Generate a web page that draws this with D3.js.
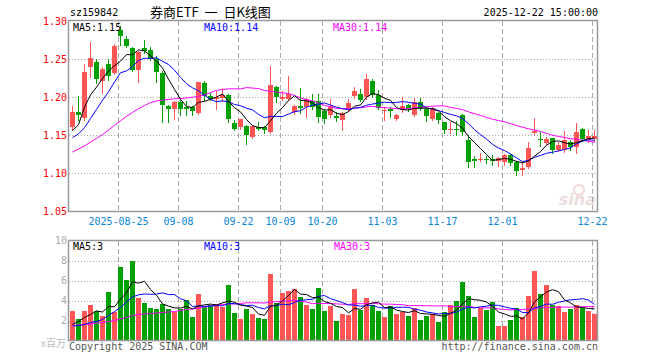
<!DOCTYPE html>
<html><head><meta charset="utf-8">
<script src="https://cdn.jsdelivr.net/npm/d3@7/dist/d3.min.js"></script>
<style>body{margin:0;background:#fff}svg{display:block}</style>
</head><body><svg id="c" width="660" height="360"></svg>
<script>
// ---------------- data ----------------
const dates = [
"2025-08-13","2025-08-14","2025-08-15","2025-08-18","2025-08-19","2025-08-20","2025-08-21","2025-08-22","2025-08-25","2025-08-26",
"2025-08-27","2025-08-28","2025-08-29","2025-09-01","2025-09-02","2025-09-03","2025-09-04","2025-09-05","2025-09-08","2025-09-09",
"2025-09-10","2025-09-11","2025-09-12","2025-09-15","2025-09-16","2025-09-17","2025-09-18","2025-09-19","2025-09-22","2025-09-23",
"2025-09-24","2025-09-25","2025-09-26","2025-09-29","2025-09-30","2025-10-09","2025-10-10","2025-10-13","2025-10-14","2025-10-15",
"2025-10-16","2025-10-17","2025-10-20","2025-10-21","2025-10-22","2025-10-23","2025-10-24","2025-10-27","2025-10-28","2025-10-29",
"2025-10-30","2025-10-31","2025-11-03","2025-11-04","2025-11-05","2025-11-06","2025-11-07","2025-11-10","2025-11-11","2025-11-12",
"2025-11-13","2025-11-14","2025-11-17","2025-11-18","2025-11-19","2025-11-20","2025-11-21","2025-11-24","2025-11-25","2025-11-26",
"2025-11-27","2025-11-28","2025-12-01","2025-12-02","2025-12-03","2025-12-04","2025-12-05","2025-12-08","2025-12-09","2025-12-10",
"2025-12-11","2025-12-12","2025-12-15","2025-12-16","2025-12-17","2025-12-18","2025-12-19","2025-12-22"];

const open = [1.161,1.181,1.173,1.2395,1.2456,1.221,1.2439,1.232,1.2886,1.2763,
1.264,1.236,1.264,1.2623,1.25,1.2316,1.1886,1.1851,1.1939,1.1877,
1.1868,1.1798,1.218,1.2015,1.198,1.199,1.2026,1.1667,1.1605,1.1623,
1.1474,1.1614,1.1605,1.1548,1.214,1.1982,1.1974,1.1807,1.1886,1.1868,
1.1956,1.1947,1.1825,1.1763,1.175,1.1702,1.1833,1.2018,1.2044,1.20,
1.221,1.2031,1.1815,1.1842,1.1712,1.183,1.1895,1.1768,1.1943,1.184,
1.171,1.179,1.1675,1.1566,1.158,1.1768,1.1439,1.1184,1.1175,1.1193,
1.1184,1.1158,1.1149,1.1241,1.1154,1.1044,1.1079,1.1526,1.1456,1.1395,
1.1461,1.1307,1.1307,1.1417,1.1351,1.1579,1.144,1.1445];

const high = [1.189,1.201,1.243,1.272,1.25,1.240,1.25,1.270,1.294,1.280,
1.2658,1.260,1.2754,1.2658,1.2535,1.2338,1.19,1.195,1.1965,1.1952,
1.1886,1.2206,1.221,1.206,1.208,1.212,1.204,1.170,1.172,1.163,
1.163,1.168,1.1623,1.2404,1.215,1.2075,1.2272,1.19,1.2118,1.199,
1.2044,1.2044,1.184,1.1974,1.181,1.180,1.198,1.214,1.2105,1.2305,
1.224,1.2088,1.1868,1.1868,1.178,1.200,1.191,1.199,1.199,1.186,
1.187,1.181,1.168,1.1675,1.169,1.178,1.150,1.1228,1.1272,1.1228,
1.1237,1.121,1.126,1.126,1.116,1.1158,1.1417,1.1724,1.1548,1.148,
1.147,1.1417,1.1561,1.144,1.1667,1.159,1.157,1.157];

const low = [1.157,1.170,1.170,1.227,1.218,1.206,1.2228,1.230,1.268,1.2658,
1.235,1.2202,1.258,1.2482,1.2206,1.168,1.168,1.172,1.1768,1.1768,
1.1768,1.178,1.196,1.196,1.185,1.195,1.168,1.157,1.158,1.1386,
1.146,1.157,1.1535,1.1535,1.1943,1.196,1.1965,1.178,1.1789,1.1746,
1.185,1.168,1.1667,1.174,1.169,1.157,1.182,1.199,1.195,1.198,
1.200,1.184,1.1702,1.1737,1.170,1.180,1.182,1.175,1.183,1.169,
1.17,1.166,1.1535,1.1526,1.1504,1.150,1.1079,1.1079,1.1158,1.114,
1.1114,1.1096,1.111,1.1105,1.0978,1.0978,1.1066,1.1518,1.136,1.138,
1.1263,1.129,1.128,1.131,1.1272,1.143,1.141,1.143];

const close = [1.180,1.177,1.233,1.252,1.2237,1.2368,1.2272,1.2675,1.2807,1.2675,
1.236,1.2588,1.2605,1.25,1.2325,1.190,1.1851,1.1939,1.1851,1.1851,
1.1825,1.2193,1.201,1.198,1.2005,1.2025,1.171,1.1588,1.171,1.1504,
1.1623,1.1588,1.157,1.2162,1.20,1.20,1.2044,1.1886,1.1855,1.1974,
1.1868,1.1737,1.1719,1.1886,1.1728,1.179,1.193,1.2075,1.1965,1.2245,
1.2025,1.1862,1.1835,1.1825,1.1768,1.189,1.1845,1.194,1.185,1.1755,
1.1855,1.1695,1.157,1.158,1.157,1.1548,1.1154,1.1167,1.1193,1.1175,
1.1167,1.1202,1.1246,1.114,1.1035,1.1066,1.1329,1.1561,1.1439,1.1456,
1.1307,1.1373,1.1439,1.1351,1.1548,1.1447,1.1495,1.149];

// volume, millions of shares
const volume = [3.0,2.2,3.0,3.6,2.97,2.5,4.9,2.9,7.4,6.1,
8.0,4.3,3.8,3.3,3.2,3.7,3.2,2.9,3.2,4.1,
2.4,4.7,3.4,3.6,3.7,3.4,5.6,2.8,2.2,3.2,
2.7,2.3,2.2,6.7,3.8,4.8,5.0,5.2,4.4,3.6,
3.2,5.3,3.0,3.5,2.0,2.7,2.6,5.2,3.1,4.3,
3.6,3.0,2.4,3.5,2.7,2.9,2.5,3.3,2.1,2.5,
2.7,1.9,2.9,3.6,4.0,5.9,4.5,2.4,3.3,3.1,
3.9,1.5,1.5,2.1,3.3,2.4,4.5,7.0,4.7,5.6,
3.6,3.5,2.9,3.2,3.6,3.3,3.0,2.7];

const ma5Lead  = [1.156,1.164,1.187,1.203];
const ma10Lead = [1.147,1.152,1.160,1.172,1.184,1.196,1.207,1.220,1.232];
const ma30Lead = [1.128,1.132,1.136,1.141,1.146,1.151,1.157,1.163,1.169,1.175,1.180,1.185,1.189,1.193,1.195,
                  1.196,1.197,1.198,1.198,1.199,1.200,1.201,1.203,1.206,1.209,1.210,1.211,1.211,1.211];
const volMa5Lead  = [1.6,1.9,2.3,2.6];
const volMa10Lead = [1.45,1.5,1.6,1.8,1.9,2.1,2.5,2.9,3.3];
const volMa30Lead = [1.5,1.55,1.6,1.65,1.75,1.8,1.9,2.0,2.15,2.3,2.5,2.6,2.65,2.7,2.75,
                     2.8,2.85,2.9,3.0,3.1,3.15,3.25,3.35,3.45,3.55,3.6,3.65,3.65,3.7];

const tickDates  = ["2025-08-25","2025-09-08","2025-09-22","2025-10-09","2025-10-20","2025-11-03","2025-11-17","2025-12-01","2025-12-22"];
const tickLabels = ["2025-08-25","09-08","09-22","10-09","10-20","11-03","11-17","12-01","12-22"];
const priceTicks = [1.05,1.10,1.15,1.20,1.25,1.30];
const volTicks   = [2,4,6,8,10];

const code = "sz159842";
const title = "券商ETF 一 日K线图";
const stamp = "2025-12-22 15:00:00";

// ---------------- helpers ----------------
function movingAvg(vals, n, lead){
  return vals.map((v,i)=> i < n-1 ? lead[i] : d3.mean(vals.slice(i-n+1, i+1)));
}
const idx = d3.range(dates.length);
const ma5 = movingAvg(close,5,ma5Lead), ma10 = movingAvg(close,10,ma10Lead), ma30 = movingAvg(close,30,ma30Lead);
const vma5 = movingAvg(volume,5,volMa5Lead), vma10 = movingAvg(volume,10,volMa10Lead), vma30 = movingAvg(volume,30,volMa30Lead);

const UP = "#ff5555", DOWN = "#00a000";
const MONO = "'DejaVu Sans Mono', monospace";
const L = 68.5, R = 597.5;

const svg = d3.select("#c");
const x  = d3.scaleBand().domain(dates).range([69.5, 597.5]);
const y  = d3.scaleLinear().domain([1.05,1.30]).range([211.5, 21]);
const yv = d3.scaleLinear().domain([0,10]).range([340.5, 240.5]);
const cx = d => x(d) + 3;
const snap = v => Math.round(v) + 0.5;

// ---------------- header ----------------
svg.append("text").attr("x",70).attr("y",16).attr("font-family",MONO).attr("font-size",10).attr("fill","#000").text(code);
svg.append("text").attr("x",150).attr("y",17).attr("font-family","'Noto Sans CJK SC', sans-serif").attr("font-size",13)
  .attr("word-spacing",3).attr("fill","#000").text(title);
svg.append("text").attr("x",598).attr("y",16).attr("text-anchor","end").attr("font-family",MONO).attr("font-size",10).attr("fill","#000").text(stamp);

// ---------------- panels ----------------
function panel(yTop, yBot, ys, hTicks){
  const g = svg.append("g");
  g.selectAll("line.h").data(hTicks).join("line")
    .attr("x1",L).attr("x2",R).attr("y1",d=>snap(ys(d))-0.5).attr("y2",d=>snap(ys(d))-0.5)
    .attr("stroke","#aaa").attr("stroke-dasharray","1,2").attr("shape-rendering","crispEdges");
  g.selectAll("line.v").data(tickDates).join("line")
    .attr("x1",d=>x(d)+1).attr("x2",d=>x(d)+1).attr("y1",yTop).attr("y2",yBot)
    .attr("stroke","#aaa").attr("stroke-dasharray","5,3").attr("shape-rendering","crispEdges");
  return g;
}
panel(21, 211, y, [1.10,1.15,1.20,1.25]);
panel(241, 340, yv, [2,4,6,8]);

const defs = svg.append("defs");
defs.append("clipPath").attr("id","cm").append("rect").attr("x",L).attr("y",20.5).attr("width",R-L).attr("height",191);
defs.append("clipPath").attr("id","cv").append("rect").attr("x",L).attr("y",240.5).attr("width",R-L).attr("height",100);

// watermark
const wm = svg.append("g").attr("opacity",0.35);
wm.append("circle").attr("cx",579).attr("cy",190).attr("r",5).attr("fill","none").attr("stroke","#d88").attr("stroke-width",2);
wm.append("text").attr("x",596).attr("y",205).attr("text-anchor","end").attr("font-family","'DejaVu Sans', sans-serif")
  .attr("font-style","italic").attr("font-weight","bold").attr("font-size",16).attr("fill","#c9a0a0").text("sina");

// candles
const cg = svg.append("g").attr("clip-path","url(#cm)");
cg.selectAll("line.wick").data(idx).join("line")
  .attr("x1",i=>cx(dates[i])).attr("x2",i=>cx(dates[i]))
  .attr("y1",i=>Math.round(y(high[i]))).attr("y2",i=>Math.round(y(low[i]))+1)
  .attr("stroke",i=>close[i]>=open[i]?UP:DOWN).attr("stroke-width",1).attr("shape-rendering","crispEdges");
cg.selectAll("rect.body").data(idx).join("rect")
  .attr("x",i=>x(dates[i])+0.5).attr("width",5)
  .attr("y",i=>Math.round(y(Math.max(open[i],close[i]))))
  .attr("height",i=>Math.max(1, Math.round(y(Math.min(open[i],close[i]))) - Math.round(y(Math.max(open[i],close[i])))))
  .attr("fill",i=>close[i]>=open[i]?UP:DOWN).attr("shape-rendering","crispEdges");

const lineP = d3.line().x((d,i)=>cx(dates[i])).y(d=>y(d));
[[ma30,"#ff00ff"],[ma10,"#0000ff"],[ma5,"#000"]].forEach(([s,c])=>{
  cg.append("path").datum(s).attr("d",lineP).attr("fill","none").attr("stroke",c).attr("stroke-width",1);
});

// volume bars
const vg = svg.append("g").attr("clip-path","url(#cv)");
vg.selectAll("rect.vol").data(idx).join("rect")
  .attr("x",i=>x(dates[i])+0.5).attr("width",5)
  .attr("y",i=>Math.round(yv(volume[i])))
  .attr("height",i=>340.5-Math.round(yv(volume[i])))
  .attr("fill",i=>close[i]>=open[i]?UP:DOWN).attr("shape-rendering","crispEdges");
const lineV = d3.line().x((d,i)=>cx(dates[i])).y(d=>yv(d));
[[vma30,"#ff00ff"],[vma10,"#0000ff"],[vma5,"#000"]].forEach(([s,c])=>{
  vg.append("path").datum(s).attr("d",lineV).attr("fill","none").attr("stroke",c).attr("stroke-width",1);
});

// borders
[[20.5,211.5],[240.5,340.5]].forEach(([t,b])=>{
  svg.append("rect").attr("x",L).attr("y",t).attr("width",R-L).attr("height",b-t)
    .attr("fill","none").attr("stroke","#999").attr("stroke-width",1.5);
});

// axes
const axY = svg.append("g").attr("transform","translate(67,0)")
  .call(d3.axisLeft(y).tickValues(priceTicks).tickSize(0).tickPadding(0).tickFormat(d3.format(".2f")));
axY.select(".domain").remove();
axY.selectAll("text").attr("font-family",MONO).attr("font-size",10).attr("fill","#ff0000");

const axV = svg.append("g").attr("transform","translate(67,0)")
  .call(d3.axisLeft(yv).tickValues(volTicks).tickSize(0).tickPadding(0).tickFormat(d3.format("d")));
axV.select(".domain").remove();
axV.selectAll("text").attr("font-family",MONO).attr("font-size",10).attr("fill","#aaa");

const axX = svg.append("g").attr("transform","translate(-2,212)")
  .call(d3.axisBottom(x).tickValues(tickDates).tickSize(0).tickPadding(6).tickFormat((d,i)=>tickLabels[i]));
axX.select(".domain").remove();
axX.selectAll("text").attr("font-family",MONO).attr("font-size",10).attr("fill","#0a86d6");

svg.append("text").attr("x",66).attr("y",347).attr("text-anchor","end").attr("font-family","'Noto Sans CJK SC', sans-serif")
  .attr("font-size",10).attr("fill","#bbb").text("x百万");

// legends
const fmt2 = d3.format(".2f");
const last = a => a[a.length-1];
[["MA5:",ma5,"#000",73],["MA10:",ma10,"#0000ff",204],["MA30:",ma30,"#ff00ff",333]].forEach(([n,s,c,px])=>{
  svg.append("text").attr("x",px).attr("y",31).attr("font-family",MONO).attr("font-size",10).attr("fill",c).text(n+fmt2(last(s)));
});
[["MA5:",vma5,"#000",73],["MA10:",vma10,"#0000ff",204],["MA30:",vma30,"#ff00ff",334]].forEach(([n,s,c,px])=>{
  svg.append("text").attr("x",px).attr("y",250).attr("font-family",MONO).attr("font-size",10).attr("fill",c).text(n+Math.floor(last(s)));
});

// footer
svg.append("text").attr("x",69).attr("y",350).attr("font-family",MONO).attr("font-size",10).attr("fill","#555").text("Copyright 2025 SINA.COM");
svg.append("text").attr("x",598).attr("y",350).attr("text-anchor","end").attr("font-family",MONO).attr("font-size",10).attr("fill","#555").text("http://finance.sina.com.cn");
</script></body></html>
